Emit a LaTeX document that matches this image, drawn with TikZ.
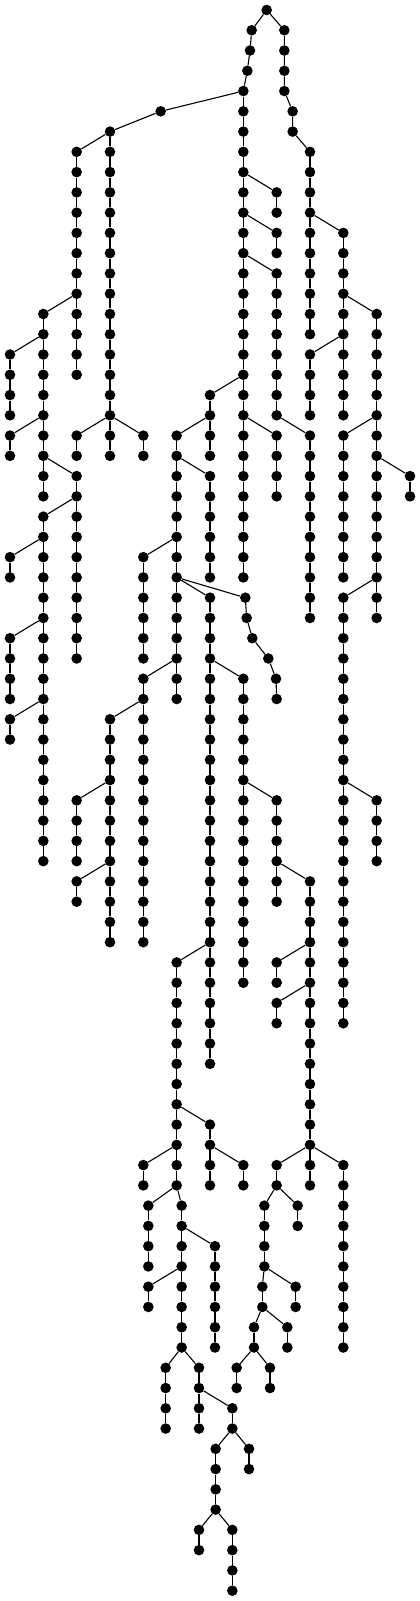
\documentclass[tikz,border=0pt]{standalone}
\newcommand{\vchain}[5]{%
  \foreach \l in {#3,...,#4}{\node[vert] (#1-\l) at (#2,\l) {};}
  \draw[edge] (#5) -- (#1-#3);
  \foreach \l in {#3,...,#4}{\ifnum\l>#3 \pgfmathtruncatemacro\k{\l-1}\draw[edge] (#1-\k) -- (#1-\l);\fi}}
\begin{document}
\begin{tikzpicture}[x=33.333pt,y=-20.265pt,
    vert/.style={circle,fill=black,inner sep=0pt,minimum size=10.6pt},
    edge/.style={line width=1.1pt}]
  \useasboundingbox (-0.3,-0.4935) rectangle (12.3,78.51);
  \node[vert] (r) at (7.7,0) {};
  \node[vert] (a-1) at (7.25,1) {};
  \node[vert] (a-2) at (7.2,2) {};
  \node[vert] (a-3) at (7.12,3) {};
  \node[vert] (a-4) at (7,4) {};
  \node[vert] (b-1) at (8.23,1) {};
  \node[vert] (b-2) at (8.23,2) {};
  \node[vert] (b-3) at (8.23,3) {};
  \node[vert] (b-4) at (8.23,4) {};
  \node[vert] (b-5) at (8.48,5) {};
  \node[vert] (b-6) at (8.48,6) {};
  \node[vert] (l-5) at (4.52,5) {};
  \draw[edge] (r) -- (a-1) -- (a-2) -- (a-3) -- (a-4) -- (l-5);
  \draw[edge] (r) -- (b-1) -- (b-2) -- (b-3) -- (b-4) -- (b-5) -- (b-6);
  \vchain{b}{9}{7}{16}{b-6}
  \vchain{m}{7}{5}{28}{a-4}
  \vchain{p}{3}{6}{22}{l-5}
  \vchain{pa}{2}{21}{22}{p-20}
  \vchain{pc}{4}{21}{22}{p-20}
  \vchain{q}{2}{7}{18}{p-6}
  \vchain{s}{1}{15}{24}{q-14}
  \vchain{t}{0}{17}{20}{s-16}
  \vchain{u}{0}{21}{22}{s-20}
  \vchain{v}{2}{23}{32}{s-22}
  \vchain{w}{1}{25}{42}{v-24}
  \vchain{wa}{0}{27}{28}{w-26}
  \vchain{wb}{0}{31}{34}{w-30}
  \vchain{wc}{0}{35}{36}{w-34}
  \vchain{d}{8}{9}{10}{m-8}
  \vchain{e}{8}{11}{12}{m-10}
  \vchain{f}{8}{13}{20}{m-12}
  \vchain{g}{9}{21}{30}{f-20}
  \vchain{h}{8}{21}{24}{m-20}
  \vchain{i}{6}{19}{22}{m-18}
  \vchain{j}{5}{21}{34}{i-20}
  \vchain{jk}{6}{23}{28}{j-22}
  \vchain{n}{4}{27}{32}{j-26}
  \vchain{o}{6}{29}{52}{j-28}
  \node[vert] (br-29) at (7.06,29) {};
  \node[vert] (br-30) at (7.1,30) {};
  \node[vert] (br-31) at (7.27,31) {};
  \node[vert] (br-32) at (7.75,32) {};
  \node[vert] (br-33) at (7.98,33) {};
  \node[vert] (br-34) at (8,34) {};
  \draw[edge] (j-28) -- (br-29) -- (br-30) -- (br-31) -- (br-32) -- (br-33) -- (br-34);
  \vchain{cc}{4}{33}{46}{j-32}
  \vchain{dd}{3}{35}{46}{cc-34}
  \vchain{ee}{2}{39}{42}{dd-38}
  \vchain{ff}{2}{43}{44}{dd-42}
  \vchain{gg}{7}{33}{48}{o-32}
  \vchain{hh}{8}{39}{44}{gg-38}
  \vchain{ii}{9}{43}{58}{hh-42}
  \vchain{jj}{8}{47}{48}{ii-46}
  \vchain{kk}{8}{49}{50}{ii-48}
  \vchain{ll}{10}{57}{66}{ii-56}
  \vchain{mm}{8}{57}{58}{ii-56}
  \vchain{nn}{7.63}{59}{62}{mm-58}
  \vchain{oo}{8.63}{59}{60}{mm-58}
  \vchain{pp}{7.57}{63}{64}{nn-62}
  \vchain{qq}{8.57}{63}{64}{nn-62}
  \vchain{rr}{7.32}{65}{66}{pp-64}
  \vchain{ss}{8.32}{65}{66}{pp-64}
  \vchain{tt}{6.8}{67}{68}{rr-66}
  \vchain{uu}{7.8}{67}{68}{rr-66}
  \vchain{va}{5}{47}{58}{o-46}
  \vchain{vb}{6}{55}{58}{va-54}
  \vchain{vc}{7}{57}{58}{vb-56}
  \vchain{vd}{4}{57}{58}{va-56}
  \vchain{ve}{4.15}{59}{62}{va-58}
  \vchain{vf}{5.15}{59}{66}{va-58}
  \vchain{vg}{6.15}{61}{66}{vf-60}
  \vchain{vh}{4.15}{63}{64}{vf-62}
  \vchain{vi}{4.67}{67}{70}{vf-66}
  \vchain{vj}{5.67}{67}{70}{vf-66}
  \vchain{vk}{6.67}{69}{70}{vj-68}
  \vchain{vl}{6.17}{71}{74}{vk-70}
  \vchain{vm}{7.17}{71}{72}{vk-70}
  \vchain{vn}{5.67}{75}{76}{vl-74}
  \vchain{vo}{6.67}{75}{78}{vl-74}
  \vchain{ra}{10}{11}{20}{b-10}
  \vchain{rb}{9}{17}{20}{ra-16}
  \vchain{rc}{11}{15}{30}{ra-14}
  \vchain{rd}{12}{23}{24}{rc-22}
  \vchain{re}{10}{21}{28}{rc-20}
  \vchain{rf}{10}{29}{50}{rc-28}
  \vchain{rg}{11}{39}{42}{rf-38}
\end{tikzpicture}
\end{document}
